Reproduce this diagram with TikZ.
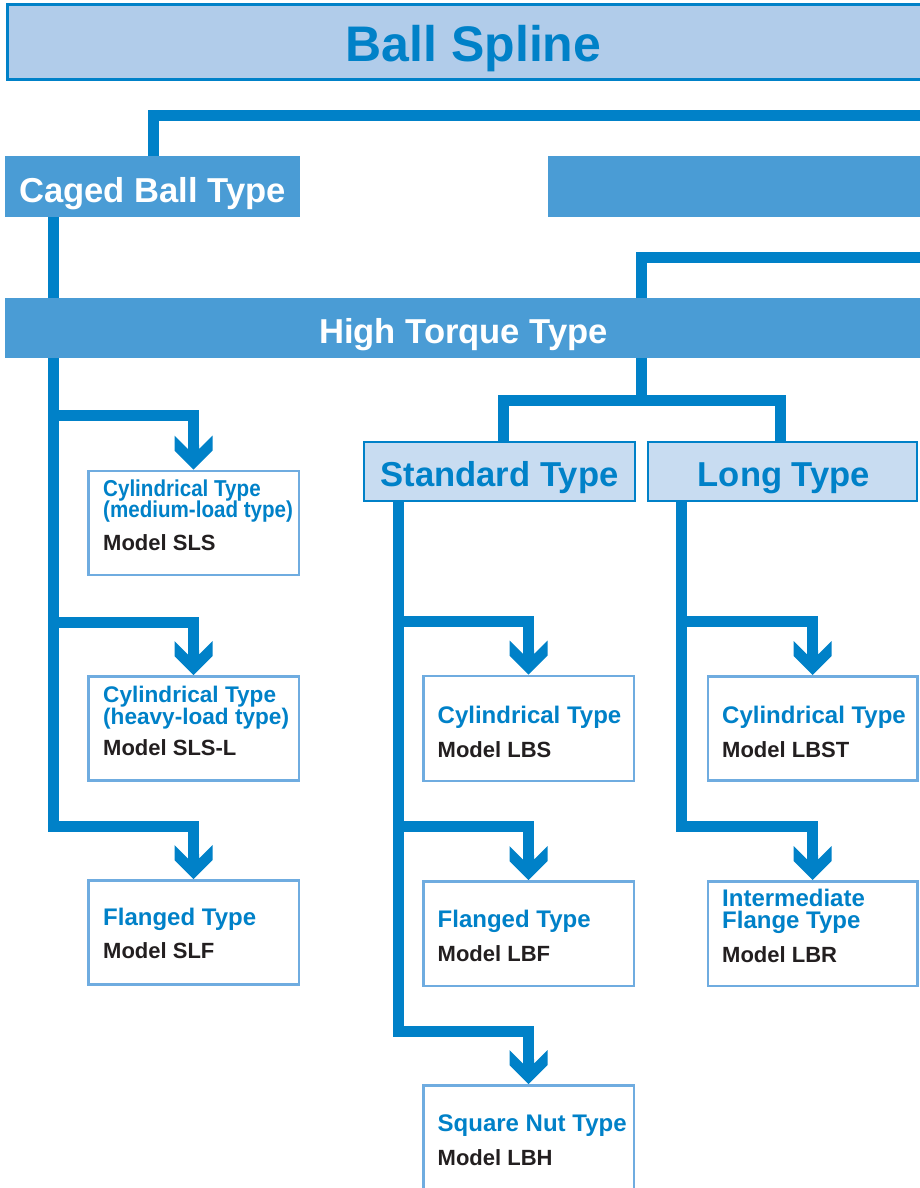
\documentclass[tikz,border=0pt]{standalone}
\usepackage{fontspec}
\setmainfont{Liberation Sans}
\newfontfamily\condfont{Liberation Sans}[FakeStretch=0.895]
\usetikzlibrary{calc,backgrounds}
\definecolor{lineblue}{RGB}{0,129,200}
\definecolor{midblue}{RGB}{74,156,213}
\definecolor{paleblue}{RGB}{177,204,234}
\definecolor{lightfill}{RGB}{200,220,241}
\definecolor{boxborder}{RGB}{111,172,224}
\definecolor{textblack}{RGB}{35,31,32}
\tikzset{
  conn/.style={draw=lineblue,line width=11pt,line join=miter},
  bar/.style={fill=midblue,draw=none,inner sep=0pt,anchor=north west},
  typebox/.style={fill=lightfill,draw=lineblue,line width=2pt,inner sep=0pt,anchor=north west},
  itembox/.style={fill=white,draw=boxborder,line width=2.5pt,inner sep=0pt,anchor=north west},
  bigwhite/.style={inner sep=0pt,text=white,font=\fontsize{34.6}{34.6}\selectfont\bfseries},
  bigblue/.style={inner sep=0pt,text=lineblue,font=\fontsize{34.6}{34.6}\selectfont\bfseries,anchor=base},
  bluetxt/.style={inner sep=0pt,anchor=base west,text=lineblue,font=\fontsize{24}{24}\selectfont\bfseries},
  bluecond/.style={inner sep=0pt,anchor=base west,text=lineblue,font=\fontsize{23}{23}\selectfont\condfont\bfseries},
  bluemid/.style={inner sep=0pt,anchor=base west,text=lineblue,font=\fontsize{22.6}{22.6}\selectfont\bfseries},
  modeltxt/.style={inner sep=0pt,anchor=base west,text=textblack,font=\fontsize{22}{22}\selectfont\bfseries},
  firstline/.style={text depth=0pt},
  chev/.pic={\fill[lineblue] (0,0) -- (-19,-19) -- (-19,-34) -- (-5.5,-20.5) -- (-5.5,-25) -- (5.5,-25) -- (5.5,-20.5) -- (19,-34) -- (19,-19) -- cycle;}
}
\begin{document}
\begin{tikzpicture}[x=1pt,y=-1pt]
\useasboundingbox (0,0) rectangle (919,1188);
% title
\node[fill=paleblue,draw=lineblue,line width=2.5pt,inner sep=0pt,anchor=north west,minimum width=933.5,minimum height=75] (title) at (6,3.5) {};
\node[inner sep=0pt,anchor=base,text=lineblue,font=\fontsize{50}{50}\selectfont\bfseries] (titletext) at (473.5,62) {Ball Spline};
% first level
\node[bar,minimum width=295,minimum height=60.5] (caged) at (5,156) {};
\node[bigwhite,anchor=base west] (cagedtext) at (19,202) {Caged Ball Type};
\node[bar,minimum width=400,minimum height=60.5] (other) at (548,156) {};
% high torque
\node[bar,minimum width=940,minimum height=60] (ht) at (5,298) {};
\node[bigwhite,anchor=base] (httext) at (463.5,343) {High Torque Type};
% standard / long
\node[typebox,minimum width=271,minimum height=59.5] (std) at (363,440.5) {};
\node[bigblue] (stdtext) at (499.5,486) {Standard Type};
\node[typebox,minimum width=269,minimum height=59.5] (long) at (647,440.5) {};
\node[bigblue] (longtext) at (784,486) {Long Type};
% caged ball column
\node[itembox,minimum width=210.5,minimum height=104] (b1) at (87,469.5) {};
\node[bluecond,firstline] (b1a) at (103,496) {Cylindrical Type};
\node[bluecond] (b1b) at (103,517.5) {(medium-load type)};
\node[modeltxt] (b1c) at (103,550) {Model SLS};
\node[itembox,minimum width=210.5,minimum height=104] (b2) at (87,675) {};
\node[bluemid,firstline] (b2a) at (103,702) {Cylindrical Type};
\node[bluemid] (b2b) at (103,724.5) {(heavy-load type)};
\node[modeltxt] (b2c) at (103,755.5) {Model SLS-L};
\node[itembox,minimum width=210.5,minimum height=104] (b3) at (87,879) {};
\node[bluetxt] (b3a) at (103,925.5) {Flanged Type};
\node[modeltxt] (b3b) at (103,958.5) {Model SLF};
% standard column
\node[itembox,minimum width=210.5,minimum height=105] (s1) at (422,674.5) {};
\node[bluetxt] (s1a) at (437.5,723) {Cylindrical Type};
\node[modeltxt] (s1b) at (437.5,757) {Model LBS};
\node[itembox,minimum width=210.5,minimum height=104.5] (s2) at (422,880) {};
\node[bluetxt] (s2a) at (437.5,927.5) {Flanged Type};
\node[modeltxt] (s2b) at (437.5,961) {Model LBF};
\node[itembox,minimum width=210.5,minimum height=130] (s3) at (422,1084) {};
\node[bluetxt] (s3a) at (437.5,1131) {Square Nut Type};
\node[modeltxt] (s3b) at (437.5,1165) {Model LBH};
% long column
\node[itembox,minimum width=209.5,minimum height=104] (l1) at (706.5,675) {};
\node[bluetxt] (l1a) at (722,723) {Cylindrical Type};
\node[modeltxt] (l1b) at (722,757) {Model LBST};
\node[itembox,minimum width=209.5,minimum height=104.5] (l2) at (706.5,880) {};
\node[bluetxt,firstline] (l2a) at (722,906) {Intermediate};
\node[bluetxt] (l2b) at (722,928.5) {Flange Type};
\node[modeltxt] (l2c) at (722,962) {Model LBR};
% connectors
\coordinate (inA) at (935,115.5);
\coordinate (inB) at (935,257);
\begin{pgfonlayer}{background}
\draw[conn] (inA) -| ($(caged.north west)+(148,0)$);
\draw[conn] (inB) -| ($(ht.north west)+(636,0)$);
\draw[conn] ($(ht.south west)+(636,0)$) -- ($(ht.south west)+(636,42)$);
\draw[conn] ($(std.north west)+(140,0)$) |- ($(ht.south west)+(636,42)$) -| ($(long.north west)+(133,0)$);
% caged ball trunk
\draw[conn] ($(caged.south west)+(48.5,0)$) |- ($(b3.north)+(0,-53)$) -- ($(b3.north)+(0,-22)$);
\draw[conn] ($(caged.south west)+(48.5,199)$) -| ($(b1.north)+(0,-22)$);
\draw[conn] ($(caged.south west)+(48.5,405.5)$) -| ($(b2.north)+(0,-22)$);
% standard trunk
\draw[conn] ($(std.south west)+(35,0)$) |- ($(s3.north)+(0,-53)$) -- ($(s3.north)+(0,-22)$);
\draw[conn] ($(std.south west)+(35,119)$) -| ($(s1.north)+(0,-22)$);
\draw[conn] ($(std.south west)+(35,324)$) -| ($(s2.north)+(0,-22)$);
% long trunk
\draw[conn] ($(long.south west)+(34,0)$) |- ($(l2.north)+(0,-54)$) -- ($(l2.north)+(0,-22)$);
\draw[conn] ($(long.south west)+(34,119)$) -| ($(l1.north)+(0,-22)$);
\pic at (b1.north) {chev};
\pic at (b2.north) {chev};
\pic at (b3.north) {chev};
\pic at (s1.north) {chev};
\pic at (s2.north) {chev};
\pic at (s3.north) {chev};
\pic at (l1.north) {chev};
\pic at (l2.north) {chev};
\end{pgfonlayer}
\end{tikzpicture}
\end{document}
